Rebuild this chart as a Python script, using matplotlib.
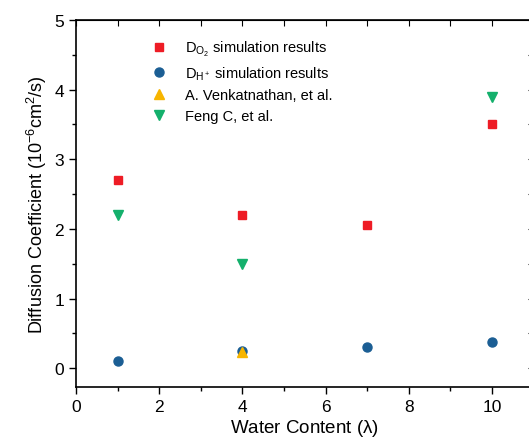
import numpy as np
import matplotlib.pyplot as plt
from matplotlib.ticker import MultipleLocator

plt.rcParams['font.family'] = ['Liberation Sans', 'DejaVu Sans']
plt.rcParams['mathtext.fontset'] = 'custom'
plt.rcParams['mathtext.rm'] = 'Liberation Sans'
plt.rcParams['mathtext.it'] = 'Liberation Sans'

# Data
x_o2 = [1, 4, 7, 10]
d_o2 = [2.7, 2.2, 2.05, 3.5]
x_h = [1, 4, 7, 10]
d_h = [0.1, 0.25, 0.3, 0.37]
x_venk = [4]
d_venk = [0.23]
x_feng = [1, 4, 10]
d_feng = [2.2, 1.5, 3.9]

fig = plt.figure(figsize=(5.29, 4.39), dpi=100)
ax = fig.add_axes([0.1437, 0.1162, 0.865, 0.836])

ax.plot(x_o2, d_o2, 's', color='#ee1c25', ms=5.8, label=r'D$_{\mathregular{O_2}}$ simulation results')
ax.plot(x_h, d_h, 'o', color='#1b5e94', ms=6.5, label=r'D$_{\mathregular{H^+}}$ simulation results')
ax.plot(x_venk, d_venk, '^', color='#f7b500', ms=7, label='A. Venkatnathan, et al.')
ax.plot(x_feng, d_feng, 'v', color='#14b06c', ms=7, label='Feng C, et al.')

ax.set_xlim(0, 11)
ax.set_ylim(-0.27, 5)
ax.xaxis.set_major_locator(MultipleLocator(2))
ax.xaxis.set_minor_locator(MultipleLocator(1))
ax.yaxis.set_major_locator(MultipleLocator(1))
ax.yaxis.set_minor_locator(MultipleLocator(0.5))
ax.tick_params(which='both', direction='out', labelsize=12.5, width=1)
ax.tick_params(which='major', length=5)
ax.tick_params(which='minor', length=3)

# mirrored ticks on top and right, pointing inward
top = ax.secondary_xaxis('top')
top.xaxis.set_major_locator(MultipleLocator(1))
top.tick_params(direction='in', length=4, labeltop=False)
right = ax.secondary_yaxis('right')
right.yaxis.set_major_locator(MultipleLocator(0.5))
right.tick_params(direction='in', length=4, labelright=False)

for s in ax.spines.values():
    s.set_linewidth(1.2)

ax.set_xlabel(r'Water Content ($\lambda$)', fontsize=13.5, labelpad=2)
ax.set_ylabel(r'Diffusion Coefficient (10$^{-6}$cm$^2$/s)', fontsize=13, labelpad=4)

ax.legend(loc='upper left', bbox_to_anchor=(0.12, 0.985), frameon=False,
          fontsize=10.5, handletextpad=0.8, labelspacing=0.45, numpoints=1)

fig.savefig('out.png', dpi=100)
